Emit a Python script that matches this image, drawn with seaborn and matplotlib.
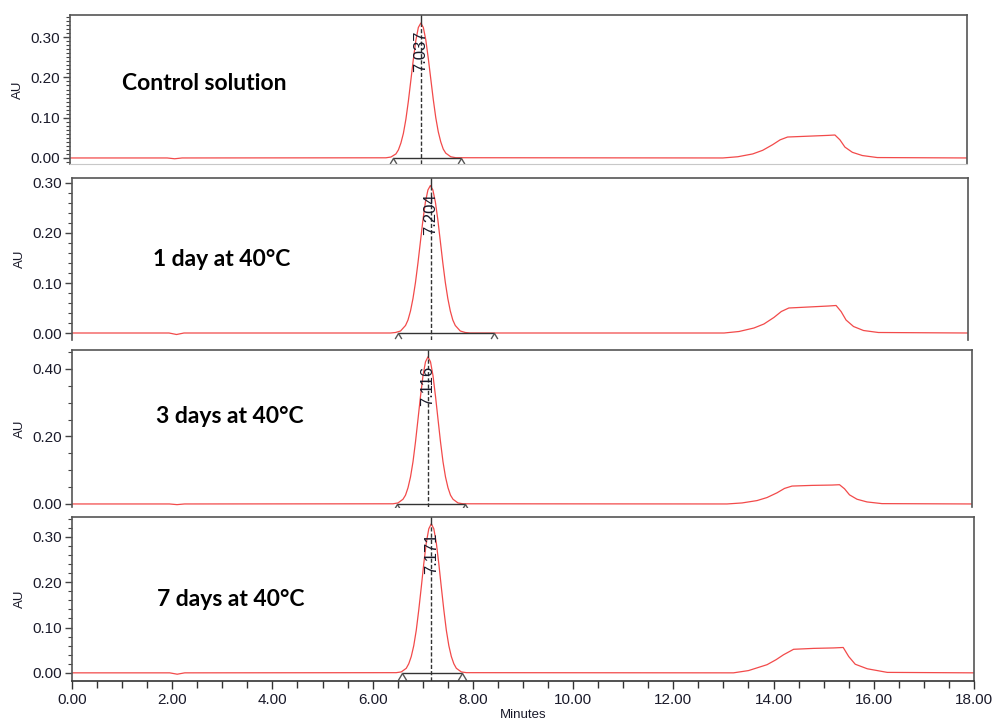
import numpy as np
import pandas as pd
import seaborn as sns
import matplotlib
matplotlib.use('Agg')
from matplotlib import pyplot as plt
from matplotlib.ticker import MultipleLocator, FormatStrFormatter
from matplotlib.path import Path

sns.set_style('ticks')
plt.rcParams['font.family'] = ['Liberation Sans', 'DejaVu Sans']

# sample names and peak data
samples = ['Control solution', '1 day at 40°C', '3 days at 40°C', '7 days at 40°C']
ret_times = [7.037, 7.204, 7.116, 7.171]
peak_start = [6.49, 6.54, 6.50, 6.59]
peak_end = [7.85, 8.47, 7.86, 7.78]

# traces (minutes, AU)
t_control = [0.0, 1.95, 2.1, 2.25, 6.34, 6.44, 6.54, 6.59, 6.64, 6.69, 6.74, 6.79, 6.84, 6.89, 6.94,
             6.99, 7.04, 7.09, 7.14, 7.19, 7.24, 7.29, 7.34, 7.39, 7.44, 7.49, 7.54, 7.64, 7.74,
             13.1, 13.4, 13.7, 13.9, 14.1, 14.25, 14.4, 14.8, 15.2, 15.35, 15.45, 15.55, 15.7, 15.9, 16.2, 18.0]
au_control = [0.0, 0.0, -0.002, 0.0, 0.0004, 0.0023, 0.010, 0.020, 0.037, 0.061, 0.096, 0.141, 0.193, 0.245, 0.292,
              0.324, 0.335, 0.324, 0.293, 0.247, 0.196, 0.145, 0.100, 0.065, 0.040, 0.022, 0.012, 0.003, 0.0006,
              0.0, 0.003, 0.010, 0.019, 0.033, 0.045, 0.052, 0.054, 0.056, 0.057, 0.045, 0.027, 0.014, 0.006, 0.001, 0.0]

t_day1 = [0.0, 1.95, 2.1, 2.25, 6.40, 6.50, 6.60, 6.70, 6.75, 6.80, 6.85, 6.90, 6.95, 7.00, 7.05, 7.10, 7.15,
          7.20, 7.25, 7.30, 7.35, 7.40, 7.45, 7.50, 7.55, 7.60, 7.65, 7.70, 7.80, 7.90, 8.00,
          13.1, 13.4, 13.7, 13.9, 14.1, 14.25, 14.4, 14.8, 15.2, 15.35, 15.45, 15.55, 15.7, 15.9, 16.2, 18.0]
au_day1 = [0.0, 0.0, -0.003, 0.0, 0.0, 0.001, 0.004, 0.015, 0.026, 0.044, 0.069, 0.101, 0.140, 0.183, 0.226, 0.262, 0.286,
           0.295, 0.286, 0.262, 0.226, 0.183, 0.140, 0.101, 0.069, 0.044, 0.026, 0.015, 0.004, 0.001, 0.0,
           0.0, 0.003, 0.010, 0.018, 0.031, 0.043, 0.050, 0.052, 0.054, 0.055, 0.043, 0.026, 0.013, 0.005, 0.001, 0.0]

t_day3 = [0.0, 1.95, 2.1, 2.25, 6.42, 6.52, 6.62, 6.67, 6.72, 6.77, 6.82, 6.87, 6.92, 6.97, 7.02, 7.07, 7.12,
          7.17, 7.22, 7.27, 7.32, 7.37, 7.42, 7.47, 7.52, 7.57, 7.62, 7.72, 7.82,
          13.1, 13.4, 13.7, 13.9, 14.1, 14.25, 14.4, 14.8, 15.2, 15.35, 15.45, 15.55, 15.7, 15.9, 16.2, 18.0]
au_day3 = [0.0, 0.0, -0.002, 0.0, 0.0005, 0.003, 0.014, 0.026, 0.048, 0.080, 0.125, 0.184, 0.251, 0.319, 0.380, 0.421, 0.436,
           0.421, 0.380, 0.319, 0.251, 0.184, 0.125, 0.080, 0.048, 0.026, 0.014, 0.003, 0.0005,
           0.0, 0.003, 0.010, 0.019, 0.033, 0.046, 0.053, 0.055, 0.056, 0.057, 0.045, 0.027, 0.014, 0.006, 0.001, 0.0]

t_day7 = [0.0, 1.95, 2.1, 2.25, 6.47, 6.57, 6.67, 6.72, 6.77, 6.82, 6.87, 6.92, 6.97, 7.02, 7.07, 7.12, 7.17,
          7.22, 7.27, 7.32, 7.37, 7.42, 7.47, 7.52, 7.57, 7.62, 7.67, 7.77, 7.87,
          13.2, 13.5, 13.87, 14.05, 14.2, 14.4, 14.8, 15.2, 15.39, 15.5, 15.63, 15.87, 16.27, 18.0]
au_day7 = [0.0, 0.0, -0.003, 0.0, 0.0004, 0.002, 0.010, 0.020, 0.036, 0.060, 0.094, 0.139, 0.189, 0.241, 0.287, 0.318, 0.329,
           0.318, 0.287, 0.241, 0.189, 0.139, 0.094, 0.060, 0.036, 0.020, 0.010, 0.002, 0.0004,
           0.0, 0.005, 0.018, 0.029, 0.040, 0.052, 0.054, 0.055, 0.056, 0.036, 0.019, 0.009, 0.001, 0.0]

traces = [(t_control, au_control), (t_day1, au_day1), (t_day3, au_day3), (t_day7, au_day7)]

# layout, pixel boxes (left, top, right, bottom) and y settings
W, H = 995, 727
boxes = [(70, 15, 967, 164), (72, 178, 968, 340), (72, 350, 972, 507), (72, 517, 974, 681)]
ylims = [(-0.015, 0.355), (-0.014, 0.31), (-0.009, 0.456), (-0.018, 0.344)]
ymajor = [0.1, 0.1, 0.2, 0.1]
yminor = [0.01, 0.02, 0.05, 0.02]
label_pos = [(122, 84), (153, 259), (156, 417), (157, 600)]

line_red = '#f24a4a'
dark = '#333333'
chevron = Path([(-0.6, -1.0), (0.0, 0.0), (0.6, -1.0)], [Path.MOVETO, Path.LINETO, Path.LINETO])

fig = plt.figure(figsize=(W / 100, H / 100), dpi=100)

for i, (t, au) in enumerate(traces):
    l, tp, r, b = boxes[i]
    ax = fig.add_axes([l / W, 1 - b / H, (r - l) / W, (b - tp) / H])
    df = pd.DataFrame({'Minutes': t, 'AU': au})
    sns.lineplot(data=df, x='Minutes', y='AU', ax=ax, color=line_red, lw=0.9,
                 sort=False, estimator=None)
    ylo, yhi = ylims[i]
    ax.set_xlim(0, 18)
    ax.set_ylim(ylo, yhi)

    # peak marking
    rt = ret_times[i]
    apex = max(au)
    ax.plot([rt, rt], [apex, yhi], color=dark, lw=1)
    ax.plot([rt, rt], [ylo, apex], color=dark, lw=1, ls=(0, (3, 1.5)))
    ax.plot([peak_start[i], peak_end[i]], [0, 0], color=dark, lw=1)
    ms = 10 if i == 3 else 8
    ax.plot([peak_start[i], peak_end[i]], [0, 0], ls='none', marker=chevron, ms=ms,
            mfc='none', mec='#555555', mew=1)
    ax.annotate(f'{rt:.3f}', xy=(rt, 1), xycoords=('data', 'axes fraction'),
                xytext=(0, -11), textcoords='offset points', rotation=90,
                ha='center', va='top', fontsize=12, color='#1a1a2a')

    ax.yaxis.set_major_locator(MultipleLocator(ymajor[i]))
    ax.yaxis.set_minor_locator(MultipleLocator(yminor[i]))
    ax.yaxis.set_major_formatter(FormatStrFormatter('%.2f'))
    ax.tick_params(axis='y', which='major', length=5, width=1, pad=2,
                   labelsize=11, color='#444444', labelcolor='#1a1a2a')
    ax.tick_params(axis='y', which='minor', length=3, width=0.8, color='#444444')
    ax.set_ylabel('AU', fontsize=9.5, labelpad=5, color='#1a1a2a')

    for side in ['top', 'right', 'left']:
        ax.spines[side].set_color('#555555')
        ax.spines[side].set_linewidth(1.2)

    if i < 3:
        ax.tick_params(axis='x', which='both', bottom=False, labelbottom=False)
        ax.set_xlabel('')
        if i == 0:
            ax.spines['bottom'].set_color('#c8c8c8')
        else:
            ax.spines['bottom'].set_visible(False)
    else:
        ax.spines['bottom'].set_color('#333333')
        ax.spines['bottom'].set_linewidth(1.2)
        ax.xaxis.set_major_locator(MultipleLocator(2))
        ax.xaxis.set_minor_locator(MultipleLocator(0.5))
        ax.xaxis.set_major_formatter(FormatStrFormatter('%.2f'))
        ax.tick_params(axis='x', which='major', length=6, width=1, pad=3,
                       labelsize=11, color='#333333', labelcolor='#1a1a2a')
        ax.tick_params(axis='x', which='minor', length=5, width=1, color='#333333')
        ax.set_xlabel('Minutes', fontsize=9.5, labelpad=1, color='#1a1a2a')

    x0, y0 = label_pos[i]
    fig.text(x0 / W, 1 - y0 / H, samples[i], ha='left', va='center',
             fontsize=16.5, fontweight='bold', family=['Lato', 'DejaVu Sans'], color='black')

fig.savefig('out.png', dpi=100)
